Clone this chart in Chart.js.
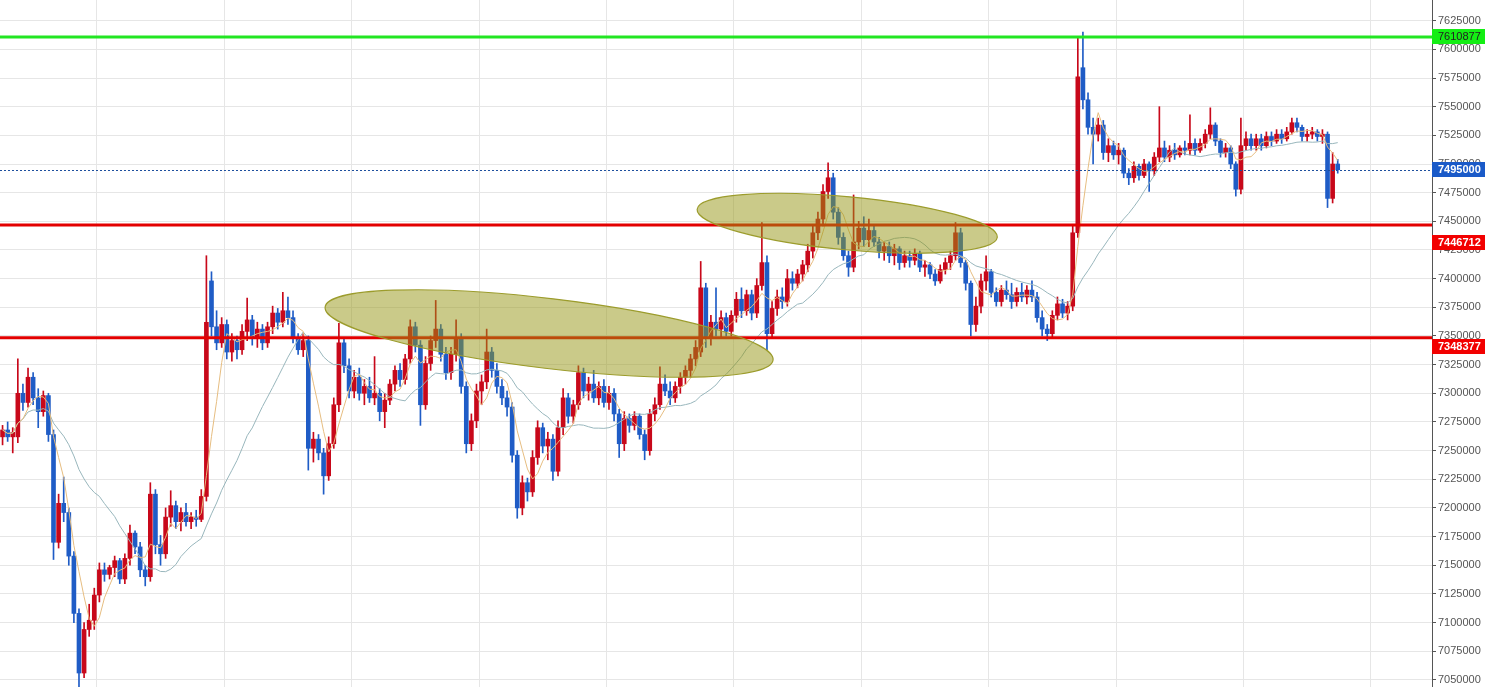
<!DOCTYPE html>
<html>
<head>
<meta charset="utf-8">
<script src="https://cdn.jsdelivr.net/npm/chart.js@4.4.1/dist/chart.umd.min.js"></script>
<style>
html, body { margin: 0; padding: 0; background: #fff; }
#wrap { width: 1485px; height: 687px; position: relative; }
</style>
</head>
<body>
<div id="wrap"><canvas id="candles"></canvas></div>
<script>
"use strict";

// prices in thousands, one entry per candle (oldest first)
const opens = [
  7262,7268,7262,7262,7300,7292,7314,7296,7284,7298,
  7264,7170,7204,7196,7158,7108,7056,7094,7102,7124,
  7146,7142,7148,7154,7138,7156,7178,7166,7146,7140,
  7212,7168,7160,7192,7202,7188,7196,7188,7192,7190,
  7210,7398,7358,7344,7360,7336,7346,7338,7354,7364,
  7348,7356,7344,7358,7370,7362,7372,7366,7348,7338,
  7346,7252,7260,7248,7228,7256,7290,7344,7324,7302,
  7314,7300,7306,7296,7300,7284,7294,7308,7320,7312,
  7330,7358,7342,7290,7326,7346,7356,7334,7318,7334,
  7348,7306,7256,7276,7302,7310,7336,7320,7306,7296,
  7288,7246,7200,7222,7214,7244,7270,7254,7260,7232,
  7270,7296,7280,7290,7318,7302,7308,7296,7306,7292,
  7300,7282,7256,7278,7272,7280,7264,7250,7282,7290,
  7308,7302,7296,7306,7314,7320,7330,7336,7392,7348,
  7362,7356,7366,7354,7368,7382,7372,7386,7370,7394,
  7414,7352,7374,7384,7380,7400,7396,7404,7412,7424,
  7440,7452,7476,7488,7458,7436,7420,7410,7432,7444,
  7434,7442,7432,7424,7428,7420,7426,7414,7420,7416,
  7422,7410,7412,7404,7398,7408,7414,7420,7440,7414,
  7396,7360,7376,7398,7406,7388,7380,7390,7386,7380,
  7388,7384,7390,7384,7366,7356,7352,7368,7378,7370,
  7376,7440,7584,7556,7532,7526,7534,7510,7516,7508,
  7512,7492,7488,7498,7490,7500,7494,7506,7514,7506,
  7512,7508,7514,7512,7518,7512,7518,7526,7534,7520,
  7510,7514,7500,7478,7516,7522,7516,7522,7516,7524,
  7520,7526,7522,7528,7536,7532,7524,7526,7528,7524,
  7526,7470,7500
];
const highs = [
  7272,7275,7270,7330,7308,7322,7318,7304,7302,7300,
  7268,7212,7227,7200,7162,7112,7100,7116,7130,7152,
  7152,7150,7158,7156,7160,7185,7180,7170,7150,7222,
  7216,7176,7200,7215,7206,7200,7204,7196,7198,7216,
  7420,7406,7372,7366,7364,7352,7350,7360,7383,7368,
  7362,7360,7362,7376,7374,7388,7384,7372,7352,7352,
  7350,7266,7264,7252,7262,7296,7361,7348,7330,7320,
  7322,7312,7314,7332,7304,7300,7312,7324,7326,7334,
  7364,7362,7346,7332,7350,7381,7360,7340,7340,7364,
  7352,7310,7282,7308,7316,7356,7340,7326,7312,7302,
  7292,7250,7228,7226,7250,7276,7274,7266,7264,7276,
  7304,7300,7294,7324,7322,7314,7320,7310,7312,7306,
  7304,7286,7284,7282,7284,7282,7268,7286,7296,7323,
  7316,7310,7310,7318,7324,7334,7346,7415,7396,7368,
  7392,7372,7370,7372,7388,7392,7390,7390,7400,7449,
  7420,7380,7390,7392,7408,7406,7408,7416,7430,7446,
  7458,7482,7501,7492,7462,7440,7424,7473,7450,7454,
  7452,7446,7436,7432,7432,7430,7428,7424,7424,7426,
  7424,7416,7414,7408,7412,7418,7424,7449,7444,7416,
  7398,7384,7404,7420,7408,7392,7394,7398,7396,7392,
  7396,7394,7398,7388,7372,7360,7372,7384,7382,7380,
  7446,7611,7615,7562,7540,7540,7538,7522,7520,7518,
  7514,7496,7502,7500,7504,7502,7510,7550,7520,7516,
  7518,7516,7520,7543,7522,7522,7530,7549,7536,7522,
  7518,7516,7502,7540,7528,7526,7526,7526,7528,7528,
  7530,7530,7532,7540,7540,7534,7530,7532,7530,7530,
  7528,7510,7504
];
const lows = [
  7255,7258,7248,7257,7285,7288,7290,7270,7280,7258,
  7155,7165,7188,7150,7100,7044,7052,7088,7094,7118,
  7136,7138,7140,7134,7134,7150,7160,7140,7132,7136,
  7160,7150,7156,7184,7182,7180,7184,7182,7184,7188,
  7206,7350,7338,7340,7330,7328,7330,7334,7346,7342,
  7340,7338,7340,7352,7356,7358,7360,7344,7334,7332,
  7233,7240,7242,7212,7224,7252,7284,7318,7296,7296,
  7294,7290,7292,7290,7276,7270,7290,7302,7306,7308,
  7326,7336,7272,7286,7320,7340,7328,7312,7312,7328,
  7300,7248,7250,7270,7290,7304,7314,7300,7290,7280,
  7240,7191,7194,7206,7210,7238,7248,7242,7224,7228,
  7264,7274,7274,7286,7296,7294,7292,7290,7288,7286,
  7276,7244,7250,7266,7268,7260,7242,7246,7276,7286,
  7298,7290,7292,7300,7308,7314,7324,7332,7340,7342,
  7350,7348,7350,7350,7362,7366,7368,7364,7366,7390,
  7338,7348,7368,7374,7376,7390,7392,7398,7406,7418,
  7434,7446,7470,7452,7430,7416,7402,7406,7426,7428,
  7428,7428,7418,7416,7414,7412,7408,7410,7410,7412,
  7406,7402,7400,7394,7396,7404,7408,7416,7410,7390,
  7350,7354,7370,7390,7384,7376,7376,7382,7374,7376,
  7380,7378,7380,7362,7350,7346,7348,7364,7366,7364,
  7372,7436,7548,7526,7500,7520,7504,7502,7504,7500,
  7488,7482,7484,7486,7488,7476,7490,7502,7502,7502,
  7504,7506,7508,7508,7508,7510,7514,7522,7516,7506,
  7506,7496,7472,7474,7512,7512,7512,7512,7514,7516,
  7518,7518,7520,7526,7528,7520,7520,7522,7520,7518,
  7462,7466,7492
];
const closes = [
  7268,7262,7266,7300,7292,7314,7296,7284,7298,7264,
  7170,7204,7196,7158,7108,7056,7094,7102,7124,7146,
  7142,7148,7154,7138,7156,7178,7166,7146,7140,7212,
  7168,7160,7192,7202,7188,7196,7188,7192,7190,7210,
  7362,7358,7344,7360,7336,7346,7338,7354,7364,7348,
  7356,7344,7358,7370,7362,7372,7366,7348,7338,7346,
  7252,7260,7248,7228,7256,7290,7344,7324,7302,7314,
  7300,7306,7296,7300,7284,7294,7308,7320,7312,7330,
  7358,7342,7290,7326,7346,7356,7334,7318,7334,7348,
  7306,7256,7276,7302,7310,7336,7320,7306,7296,7288,
  7246,7200,7222,7214,7244,7270,7254,7260,7232,7270,
  7296,7280,7290,7318,7302,7308,7296,7306,7292,7300,
  7282,7256,7278,7272,7280,7264,7250,7282,7290,7308,
  7302,7296,7306,7314,7320,7330,7340,7392,7348,7362,
  7356,7366,7354,7368,7382,7372,7386,7370,7394,7414,
  7352,7374,7384,7380,7400,7396,7404,7412,7424,7440,
  7452,7476,7488,7458,7436,7420,7410,7432,7444,7434,
  7442,7432,7424,7428,7420,7426,7414,7420,7416,7422,
  7410,7412,7404,7398,7408,7414,7420,7440,7414,7396,
  7360,7376,7398,7406,7388,7380,7390,7386,7380,7388,
  7384,7390,7384,7366,7356,7352,7368,7378,7370,7376,
  7440,7576,7556,7532,7526,7534,7510,7516,7508,7512,
  7492,7488,7498,7490,7500,7494,7506,7514,7506,7512,
  7508,7514,7512,7518,7512,7518,7526,7534,7520,7510,
  7514,7500,7478,7516,7522,7516,7522,7516,7524,7520,
  7526,7522,7528,7536,7532,7524,7526,7528,7524,7526,
  7470,7500,7495
];

// horizontal price levels drawn by hand on the chart
const levels = [7610877, 7446712, 7348377];
const lastPrice = 7495000;

// shaded zones: major axis from -> to (candle slot, price), half width in price
const zones = [
  { from: [63.8, 7375300], to: [151.7, 7329000], half: 30500 },
  { from: [136.8, 7460500], to: [195.7, 7436100], half: 23200 }
];

const UNIT = 1000;
const UP = '#c8081a';
const DOWN = '#1f5cc6';
const STEP = 25000;

const levelStyle = [
  { line: '#22e622', box: '#14ee14', text: '#222', bold: false, shift: 0 },
  { line: '#e30000', box: '#f20000', text: '#fff', bold: true, shift: 17 },
  { line: '#e30000', box: '#f20000', text: '#fff', bold: true, shift: 9 }
];

function sma(values, n) {
  return values.map((v, i) => {
    const from = Math.max(0, i - n + 1);
    const win = values.slice(from, i + 1);
    return win.reduce((s, a) => s + a, 0) / win.length;
  });
}

const colors = closes.map((c, i) => c >= opens[i] ? UP : DOWN);
const slot = i => i + 0.5;

const wicks = lows.map((l, i) => ({ x: slot(i), y: [l * UNIT, highs[i] * UNIT] }));
const bodies = opens.map((o, i) => ({ x: slot(i), y: [o * UNIT, closes[i] * UNIT] }));
const fast = sma(closes, 5).map((v, i) => ({ x: slot(i), y: v * UNIT }));
const slow = sma(closes, 20).map((v, i) => ({ x: slot(i), y: v * UNIT }));

const overlay = {
  id: 'overlay',
  afterDatasetsDraw(chart) {
    const { ctx, chartArea: a, scales: { x, y } } = chart;
    ctx.save();
    ctx.beginPath();
    ctx.rect(a.left, a.top, a.width, a.height);
    ctx.clip();

    // last price, dotted
    const py = Math.round(y.getPixelForValue(lastPrice)) + 0.5;
    ctx.strokeStyle = '#1d4f9e';
    ctx.lineWidth = 1;
    ctx.setLineDash([2, 2]);
    ctx.beginPath();
    ctx.moveTo(a.left, py);
    ctx.lineTo(a.right, py);
    ctx.stroke();
    ctx.setLineDash([]);

    levels.forEach((v, i) => {
      const ly = y.getPixelForValue(v);
      ctx.strokeStyle = levelStyle[i].line;
      ctx.lineWidth = 3;
      ctx.beginPath();
      ctx.moveTo(a.left, ly);
      ctx.lineTo(a.right, ly);
      ctx.stroke();
    });

    zones.forEach(z => {
      const x1 = x.getPixelForValue(z.from[0]), y1 = y.getPixelForValue(z.from[1]);
      const x2 = x.getPixelForValue(z.to[0]), y2 = y.getPixelForValue(z.to[1]);
      const rx = Math.hypot(x2 - x1, y2 - y1) / 2;
      const ry = Math.abs(y.getPixelForValue(z.from[1] + z.half) - y1);
      const rot = Math.atan2(y2 - y1, x2 - x1);
      ctx.beginPath();
      ctx.ellipse((x1 + x2) / 2, (y1 + y2) / 2, rx, ry, rot, 0, Math.PI * 2);
      ctx.fillStyle = 'rgba(150,150,20,0.5)';
      ctx.fill();
      ctx.strokeStyle = '#9c9c2c';
      ctx.lineWidth = 1.2;
      ctx.stroke();
    });
    ctx.restore();
  },
  afterDraw(chart) {
    const { ctx, chartArea: a, scales: { y } } = chart;
    const tags = levels.map((v, i) => ({ value: v, ...levelStyle[i] }));
    tags.push({ value: lastPrice, box: '#1a5ac8', text: '#fff', bold: true, shift: 0 });
    ctx.save();
    tags.forEach(t => {
      const cy = y.getPixelForValue(t.value) + t.shift;
      ctx.fillStyle = t.box;
      ctx.fillRect(a.right, Math.round(cy - 7.5), chart.width - a.right, 15);
      ctx.fillStyle = t.text;
      ctx.font = (t.bold ? 'bold ' : '') + '11px "Liberation Sans", Arial, sans-serif';
      ctx.textBaseline = 'middle';
      ctx.textAlign = 'left';
      ctx.fillText(String(t.value), a.right + 6, cy + 0.5);
    });
    ctx.restore();
  }
};

window.onload = init;

function init() {
    const el = document.getElementById('candles');

    new Chart(el, {
        type: 'bar',
        data: {
            datasets: [
                { type: 'line', data: fast, borderColor: '#e6bd80', borderWidth: 1, pointRadius: 0, tension: 0 },
                { type: 'line', data: slow, borderColor: '#98b6bc', borderWidth: 1, pointRadius: 0, tension: 0 },
                { data: bodies, backgroundColor: colors, barThickness: 4, minBarLength: 1, grouped: false, borderWidth: 0 },
                { data: wicks, backgroundColor: colors, barThickness: 1, grouped: false, borderWidth: 0 }
            ]
        },
        options: {
            responsive: true,
            maintainAspectRatio: false,
            animation: false,
            layout: { padding: 0 },
            plugins: { legend: { display: false }, tooltip: { enabled: false } },
            scales: {
                x: {
                    type: 'linear',
                    min: 0,
                    max: 281,
                    offset: false,
                    grid: { color: '#e6e6e6', drawTicks: false, offset: false },
                    border: { display: false },
                    ticks: { display: false },
                    afterBuildTicks(scale) {
                        // one vertical grid line every 25 candles
                        const t = [];
                        for (let v = 19.03; v < scale.max; v += 25) t.push({ value: v });
                        scale.ticks = t;
                    },
                    afterFit(scale) { scale.height = 0; }
                },
                y: {
                    position: 'right',
                    min: 7043800,
                    max: 7643060,
                    grid: { color: '#e6e6e6', tickColor: '#555', tickLength: 4 },
                    border: { color: '#555', width: 1 },
                    ticks: {
                        padding: 2,
                        color: '#555',
                        font: { family: '"Liberation Sans", Arial, sans-serif', size: 11 },
                        callback: v => String(v)
                    },
                    afterBuildTicks(scale) {
                        const t = [];
                        for (let v = Math.ceil(scale.min / STEP) * STEP; v <= scale.max; v += STEP) t.push({ value: v });
                        scale.ticks = t;
                    },
                    afterFit(scale) {
                        scale.width = 53;
                        scale.paddingTop = 0;
                        scale.paddingBottom = 0;
                    }
                }
            }
        },
        plugins: [overlay]
    });
}
</script>
</body>
</html>
